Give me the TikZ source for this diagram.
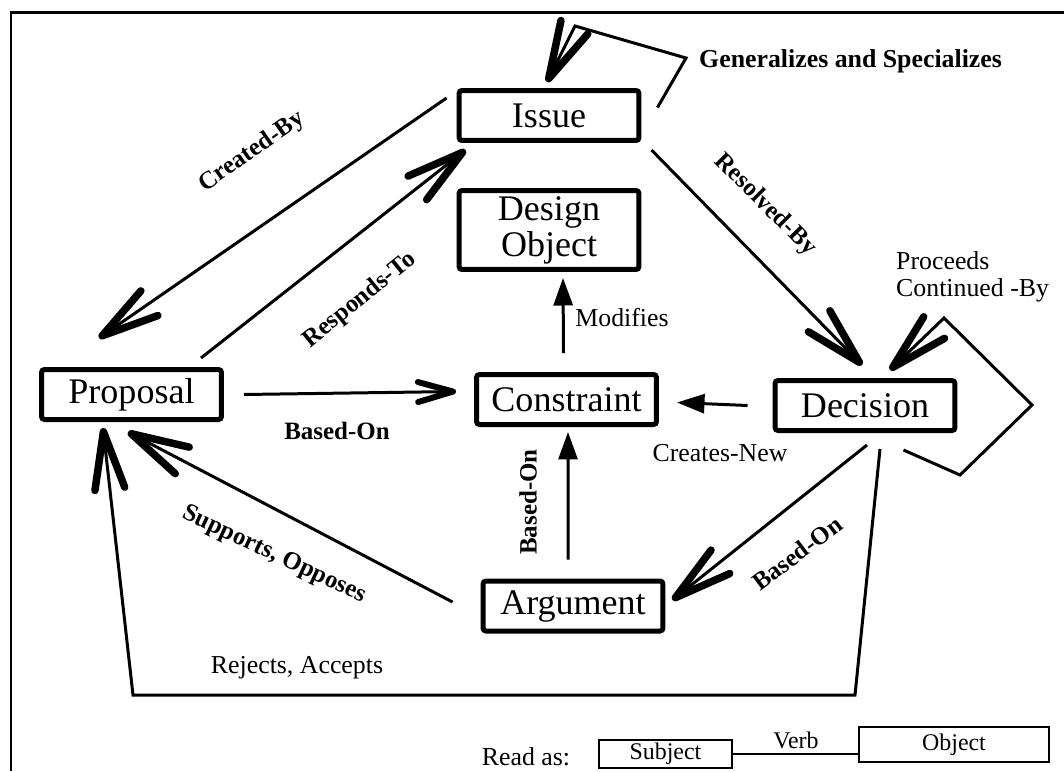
\documentclass[tikz,border=0pt]{standalone}
\usepackage{fontspec}
\setmainfont{Liberation Serif}
\usetikzlibrary{arrows.meta}

\tikzset{
  entity/.style={draw, line width=0.1cm, rounded corners=0.06cm, minimum width=3.6cm,
    minimum height=1cm, inner sep=0pt, font=\fontsize{20.5}{23}\selectfont},
  legendbox/.style={draw, line width=0.04cm, inner sep=0pt, font=\fontsize{13.6}{15}\selectfont},
  rel/.style={line width=0.06cm},
  openhead/.style={-{Straight Barb[length=1.15cm,width=0.6cm,line width=0.15cm,round]}},
  smallhead/.style={-{Straight Barb[length=0.7cm,width=0.4cm,line width=0.12cm,round]}},
  solidhead/.style={-{Triangle[length=0.55cm,width=0.38cm]}},
  lbl/.style={font=\bfseries\fontsize{14.2}{16}\selectfont},
  note/.style={font=\fontsize{14.7}{15.5}\selectfont},
}

\begin{document}
\begin{tikzpicture}[x=0.02cm, y=-0.02cm]
  \useasboundingbox (0,0) rectangle (1064,771);
  % Frame
  \draw[line width=0.06cm] (11,771) -- (11,12) -- (1064,12);

  % Entity nodes
  \node[entity] (issue) at (549,115.5) {Issue};
  \node[entity, minimum height=1.58cm, align=center, font=\fontsize{20.5}{20.5}\selectfont] (design) at (549,230) {Design\\Object};
  \node[entity] (constraint) at (566.5,399.5) {Constraint};
  \node[entity] (decision) at (865,405.5) {Decision};
  \node[entity] (proposal) at (131.5,394.5) {Proposal};
  \node[entity] (argument) at (573,606) {Argument};

  % Bend points
  \coordinate (g1) at (686,58);
  \coordinate (g2) at (575,26);
  \coordinate (p1) at (960,475);
  \coordinate (p2) at (1032,405);
  \coordinate (p3) at (944,318);
  \coordinate (r1) at (855,695);
  \coordinate (r2) at (133,695);

  % Edges
  \draw[rel, openhead] ([shift={(-10,10)}]issue.north west) -- ([shift={(60,-29)}]proposal.north west);
  \draw[rel, openhead] ([shift={(-23,-9)}]proposal.north east) -- ([shift={(9,7)}]issue.south west);
  \draw[rel, openhead] ([shift={(10,7)}]issue.south east) -- ([shift={(-3,-13)}]decision.north);
  \draw[rel, openhead] ([shift={(16,-8)}]issue.east) -- (g1) -- (g2) -- ([shift={(-2,-6)}]issue.north);
  \draw[rel, solidhead] ([shift={(-3,-19)}]constraint.north) -- ([shift={(14,6)}]design.south);
  \draw[rel, smallhead] ([shift={(20,0)}]proposal.east) -- ([shift={(-18,-8)}]constraint.west);
  \draw[rel, solidhead] ([shift={(-25,0)}]decision.west) -- ([shift={(18,3)}]constraint.east);
  \draw[rel, solidhead] ([shift={(-5,-19)}]argument.north) -- ([shift={(1.5,5)}]constraint.south);
  \draw[rel, openhead] ([shift={(2,12)}]decision.south) -- ([shift={(7,-6)}]argument.east);
  \draw[rel, openhead] ([shift={(-28,-4)}]argument.west) -- ([shift={(-3.5,10)}]proposal.south);
  \draw[rel, openhead] ([shift={(15,16)}]decision.south) -- (r1) -- (r2) -- ([shift={(-28.5,6)}]proposal.south);
  \draw[rel, openhead] ([shift={(-54,17)}]decision.south east) -- (p1) -- (p2) -- (p3) -- ([shift={(25,-8)}]decision.north);

  % Edge labels
  \node[lbl, rotate=35] (createdby) at (252,152) {Created-By};
  \node[lbl, rotate=39] (respondsto) at (360,300) {Responds-To};
  \node[lbl, rotate=-45] (resolvedby) at (765,205) {Resolved-By};
  \node[note, anchor=west] (generalizes) at (693,61) {\bfseries Generalizes and Specializes};
  \node[note, anchor=north west, align=left] (proceeds) at (890,245) {Proceeds\\Continued -By};
  \node[note] (modifies) at (622,318) {Modifies};
  \node[lbl] (basedon) at (337,431) {Based-On};
  \node[note] (createsnew) at (720,453) {Creates-New};
  \node[lbl, rotate=90] (argbasedon) at (528,502) {Based-On};
  \node[lbl, rotate=37] (decbasedon) at (797,553) {Based-On};
  \node[lbl, rotate=-25] (supports) at (274,555) {Supports, Opposes};
  \node[note] (rejects) at (297,668) {Rejects, Accepts};

  % Legend
  \node[note] (readas) at (526,757) {Read as:};
  \node[legendbox, minimum width=2.66cm, minimum height=0.56cm] (subject) at (665.5,754) {Subject};
  \node[legendbox, minimum width=3.8cm, minimum height=0.7cm] (object) at (954,744.5) {Object};
  \draw[line width=0.04cm] (subject.east) -- (subject.east -| object.west);
  \node[legendbox, draw=none] (verb) at (796,740) {Verb};
\end{tikzpicture}
\end{document}
